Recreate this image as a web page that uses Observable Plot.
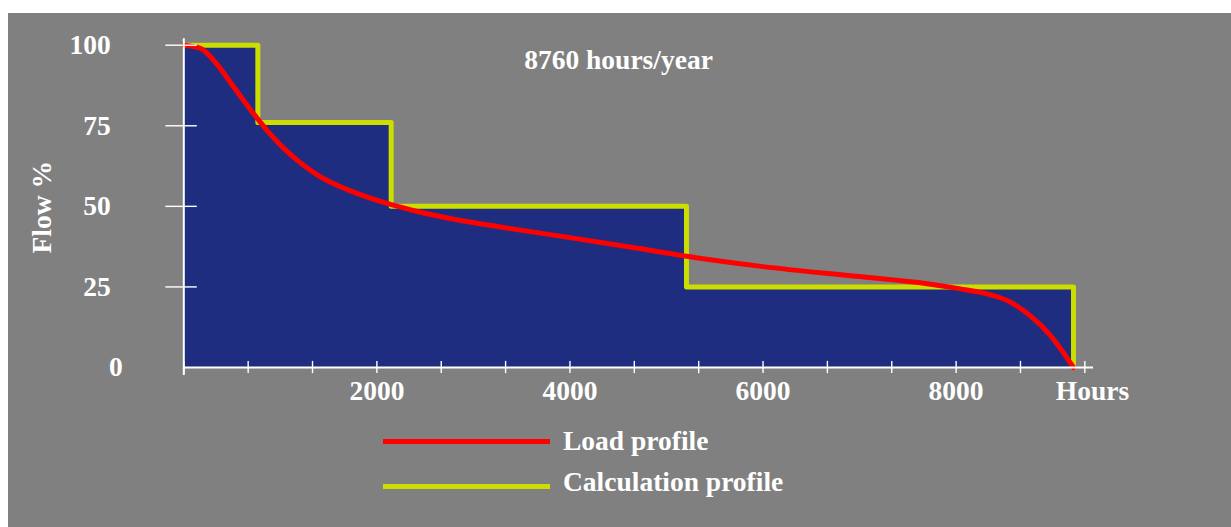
<!DOCTYPE html>
<html>
<head>
<meta charset="utf-8">
<script src="https://cdn.jsdelivr.net/npm/d3@7"></script>
<script src="https://cdn.jsdelivr.net/npm/@observablehq/plot@0.6"></script>
<style>
  html, body { margin: 0; padding: 0; background: #ffffff; }
  #panel {
    position: absolute; left: 8px; top: 13px; width: 1223px; height: 514px;
    background: #808080; overflow: hidden;
    font-family: "Liberation Serif", "Times New Roman", serif; font-weight: bold; color: #ffffff;
  }
  #chart { position: absolute; left: 0; top: 0; }
  .key-line { position: absolute; left: 375px; width: 167px; height: 5px; }
  .key-text { position: absolute; left: 555px; font-size: 27.5px; line-height: 30px; white-space: nowrap; }
</style>
</head>
<body>
<div id="panel">
  <div id="chart"></div>
  <div class="key-line" style="top:426px;background:#ff0000"></div>
  <div class="key-text" style="top:413px">Load profile</div>
  <div class="key-line" style="top:471px;background:#ccdd00"></div>
  <div class="key-text" style="top:454px">Calculation profile</div>
</div>
<script>
// Load duration curve: flow (%) against cumulative operating hours
const loadHours = [0, 173, 346, 518, 691, 864, 1036, 1209, 1382, 1555, 1727, 2072, 2418, 2800, 3300, 4000, 4700, 5207, 6000, 7000, 7700, 8044, 8300, 8550, 8769, 8976, 9216];
const loadFlow  = [100, 99, 94, 87, 80, 73.5, 68, 63.5, 59.8, 57, 54.8, 51.2, 48.4, 46, 43.5, 40.3, 37, 34.5, 31.3, 28.2, 26, 24.4, 23, 20.5, 16, 10, 0];

// Stepped calculation profile: each flow level starts at the given hour
const stepHours = [0, 767, 2148, 5207, 9216];
const stepFlow  = [100, 76, 50, 25, 0];

// Axis ticks and labels
const xTicks = d3.range(0, 15).map(i => i * 2000 / 3);
const xLabels = [2000, 4000, 6000, 8000];
const yTicks = [100, 75, 50, 25];
const yLabels = [100, 75, 50, 25, 0];
const xMax = 9423;

const load = loadHours.map((h, i) => ({hours: h, flow: loadFlow[i]}));
const calc = stepHours.map((h, i) => ({hours: h, flow: stepFlow[i]}));

const font = {fontFamily: "Liberation Serif, Times New Roman, serif", fontWeight: "bold", fill: "#ffffff", fontSize: 27.5};

const chart = Plot.plot({
  width: 1223,
  height: 400,
  marginLeft: 175.3,
  marginRight: 138,
  marginTop: 31.7,
  marginBottom: 46,
  style: {background: "transparent", color: "#ffffff", overflow: "visible"},
  x: {domain: [0, xMax], axis: null},
  y: {domain: [0, 100], axis: null},
  marks: [
    Plot.areaY(calc, {x: "hours", y: "flow", curve: "step-after", fill: "#1e2d80"}),
    Plot.line(calc, {x: "hours", y: "flow", curve: "step-after", stroke: "#ccdd00", strokeWidth: 5, strokeLinejoin: "round", strokeLinecap: "round"}),
    Plot.line(load, {x: "hours", y: "flow", curve: "monotone-x", stroke: "#ff0000", strokeWidth: 5}),
    // axes
    Plot.ruleY([0], {x1: 0, x2: xMax, stroke: "#ffffff", strokeWidth: 2}),
    Plot.ruleX([0], {y1: -2.5, y2: 102, stroke: "#ffffff", strokeWidth: 2}),
    Plot.ruleX(xTicks, {y1: -1.9, y2: 1.9, stroke: "#ffffff", strokeWidth: 1.4}),
    Plot.ruleY(yTicks, {x1: -186, x2: 140, stroke: "#ffffff", strokeWidth: 1.4}),
    // labels
    Plot.text(xLabels, {x: d => d, y: 0, dy: 24, text: d => String(d), ...font}),
    Plot.text(["Hours"], {x: 9413, y: 0, dy: 24, text: d => d, ...font}),
    Plot.text(yLabels.filter(d => d !== 0), {x: 0, y: d => d, dx: -73, textAnchor: "end", text: d => String(d), ...font}),
    Plot.text(yLabels.filter(d => d === 0), {x: 0, y: d => d, dx: -61, textAnchor: "end", text: d => String(d), ...font}),
    Plot.text(["8760 hours/year"], {x: 4503, y: 95.3, text: d => d, ...font}),
    Plot.text(["Flow %"], {x: -1464, y: 49.7, rotate: -90, text: d => d, ...font})
  ]
});
document.getElementById("chart").appendChild(chart);
</script>
</body>
</html>
